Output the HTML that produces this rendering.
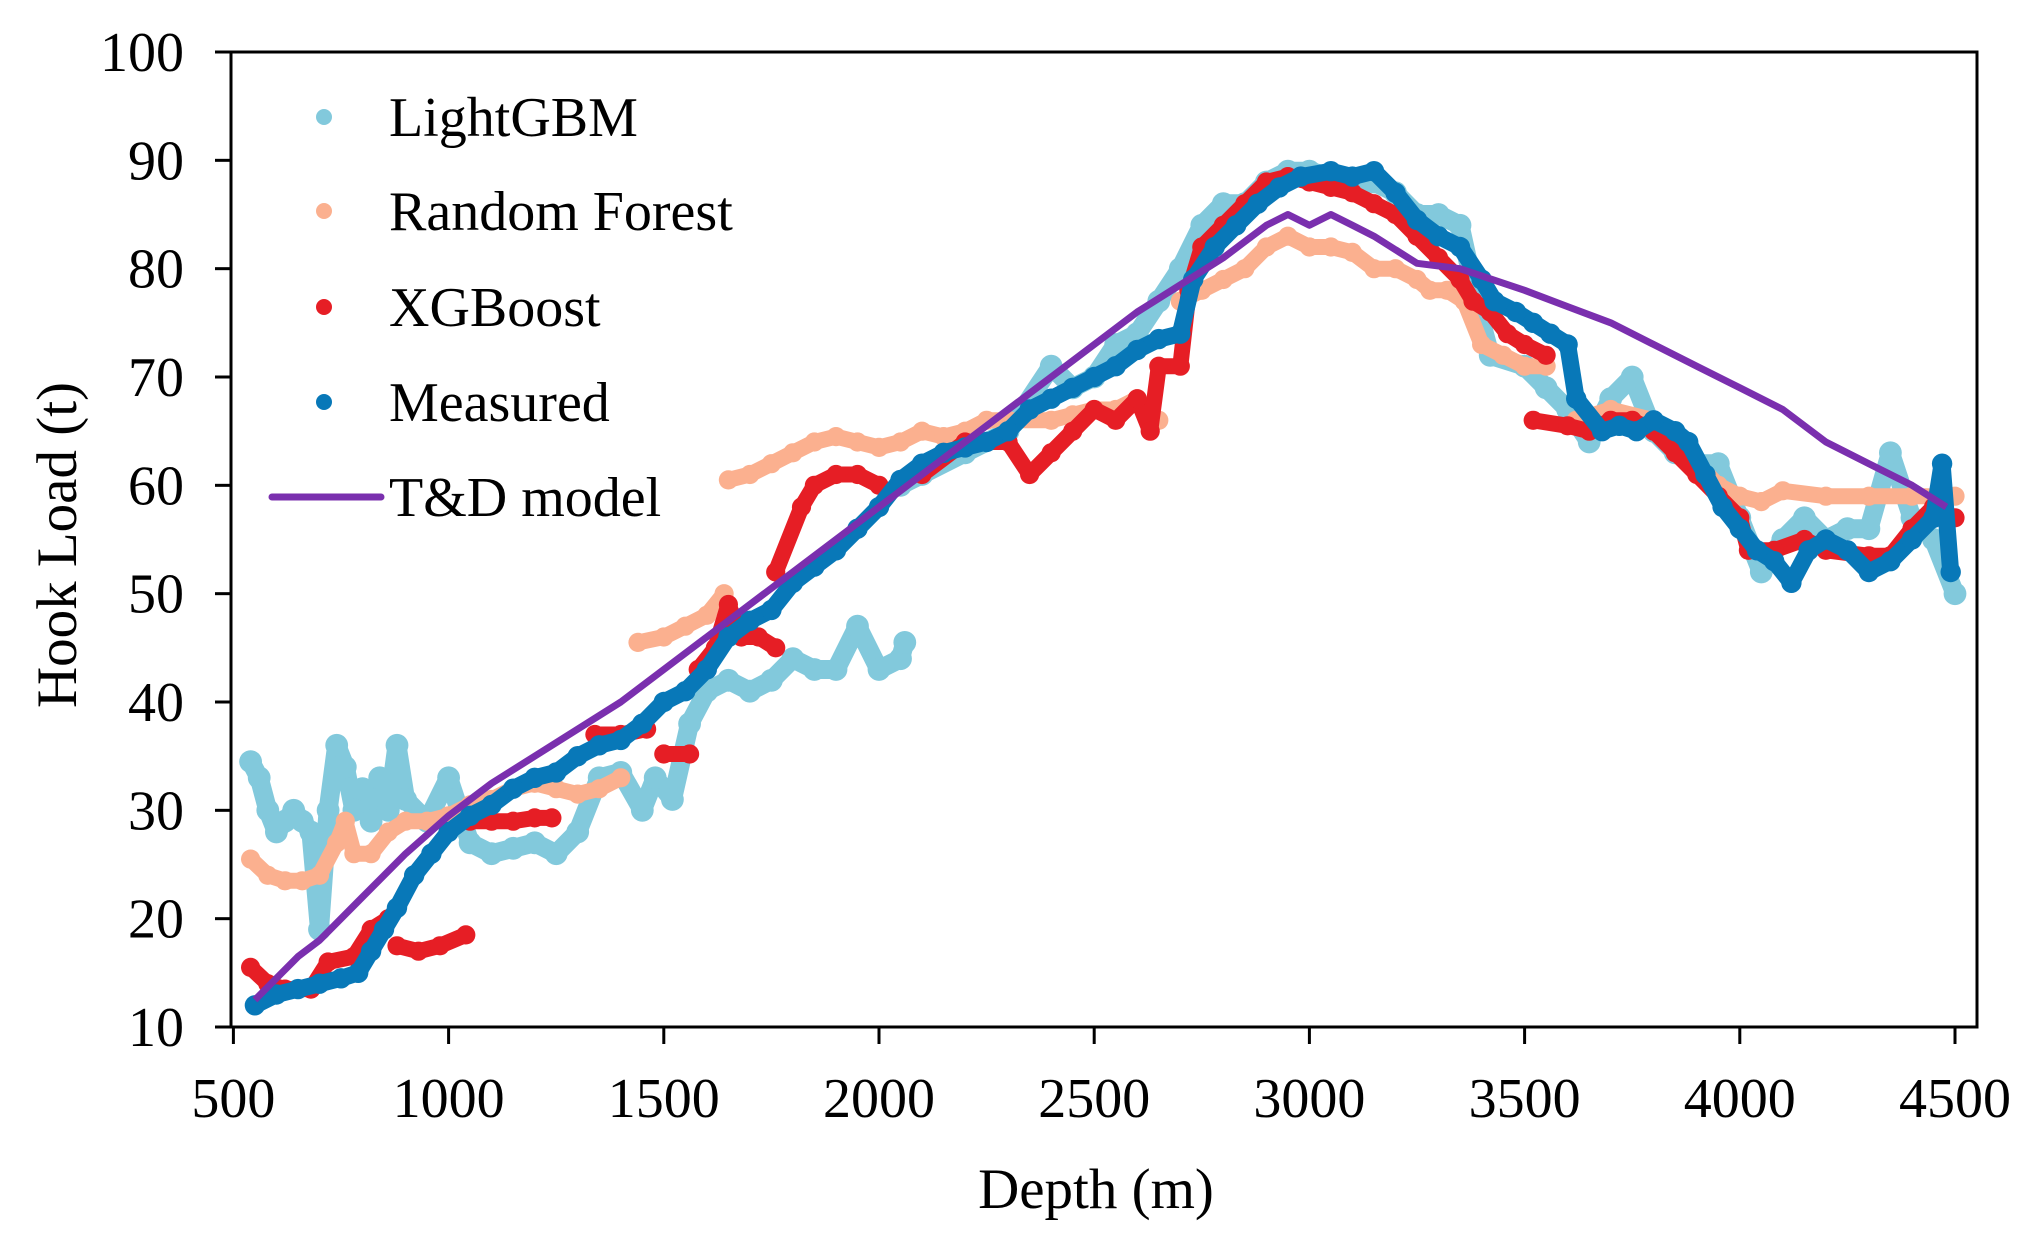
<!DOCTYPE html>
<html><head><meta charset="utf-8"><style>
html,body{margin:0;padding:0;background:#fff;}
svg{display:block;font-family:"Liberation Serif",serif;}
</style></head><body>
<svg id="chart" width="2033" height="1248" viewBox="0 0 2033 1248">
<rect width="2033" height="1248" fill="#fff"/>
<g id="series"></g>
<g id="axes"></g>
<g id="legend"></g>
</svg>
<script>
const xTicks=[500,1000,1500,2000,2500,3000,3500,4000,4500];
const yTicks=[10,20,30,40,50,60,70,80,90,100];
// LightGBM segments
const lgbD1=[540,560,580,600,620,640,660,680,700,720,740,760,780,800,820,840,860,880,900,950,1000,1050,1100,1150,1200,1250,1300,1350,1400,1450,1480,1520,1560,1600,1650,1700,1750,1800,1850,1900,1950,2000,2050,2060];
const lgbL1=[34.5,33,30,28,29,30,29,28,19,30,36,34,30,32,29,33,30,36,31,29,33,27,26,26.5,27,26,28,33,33.5,30,33,31,38,41,42,41,42,44,43,43,47,43,44,45.5];
const lgbD2=[2050,2100,2200,2300,2400,2450,2500,2550,2600,2650,2700,2750,2800,2850,2900,2950,3000,3050,3100,3150,3200,3250,3300,3350,3400,3420,3500,3550,3600,3650,3700,3750,3800,3850,3900,3950,4000,4050,4100,4150,4200,4250,4300,4350,4400,4450,4500];
const lgbL2=[60,61,63,65,71,69,70,73,74,77,80,84,86,86,88,89,89,88.5,87.5,88,87,85,85,84,75,72,71,69,67,64,68,70,65,63,62,62,57,52,55,57,55,56,56,63,57,55,50];
// Random Forest segments
const rfD1=[540,580,620,660,700,740,760,780,820,860,900,950,1000,1050,1100,1150,1200,1250,1300,1350,1400];
const rfL1=[25.5,24,23.5,23.5,24,27,29,26,26,28,29,29,29.5,30.5,31,32,32.5,32,31.5,32,33];
const rfD2=[1440,1500,1550,1600,1640];
const rfL2=[45.5,46,47,48,50];
const rfD3=[1650,1700,1750,1800,1850,1900,1950,2000,2050,2100,2150,2200,2250,2300,2400,2450,2500,2550,2600,2650];
const rfL3=[60.5,61,62,63,64,64.5,64,63.5,64,65,64.5,65,66,66,66,66.5,67,67,68,66];
const rfD4=[2700,2750,2800,2850,2900,2950,3000,3050,3100,3150,3200,3250,3280,3320,3360,3400,3450,3500,3550];
const rfL4=[77,78,79,80,82,83,82,82,81.5,80,80,79,78,78,77,73,72,71,71];
const rfD5=[3620,3700,3800,3850,3900,3950,4000,4050,4100,4200,4300,4400,4500];
const rfL5=[66,67,66,64,62,60,59,58.5,59.5,59,59,59,59];
// XGBoost segments
const xgbD1=[540,580,620,680,720,780,820,860];
const xgbL1=[15.5,14,13.5,13.5,16,16.5,19,20];
const xgbD2=[880,930,980,1040];
const xgbL2=[17.5,17,17.5,18.5];
const xgbD3=[1050,1100,1150,1200,1240];
const xgbL3=[29,29,29,29.3,29.3];
const xgbD4=[1340,1400,1460];
const xgbL4=[37,37,37.5];
const xgbD5=[1500,1560];
const xgbL5=[35.2,35.2];
const xgbD6=[1580,1620,1650,1680,1720,1760];
const xgbL6=[43,45,49,46,46,45];
const xgbD7=[1760,1820,1850,1900,1950,2000];
const xgbL7=[52,58,60,61,61,60];
const xgbD8=[2100,2200,2300,2350,2400,2450,2500,2550,2600,2630,2650,2700,2720,2750,2800,2850,2900,2950,3000,3050,3100,3150,3200,3250,3300,3350,3380,3420,3460,3500,3550];
const xgbL8=[61,64,64,61,63,65,67,66,68,65,71,71,78,82,84,86,88,88.5,88,87.5,87,86,85,83,81,79,77,76,74,73,72];
const xgbD9=[3520,3600,3650,3700,3750,3800,3850,3900,3950,4000,4020,4080,4150,4200,4300,4350,4400,4450,4500];
const xgbL9=[66,65.5,65,66,66,65,63,61,59,57,54,54,55,54,53.5,53.5,56,58,57];
// Measured
const measD=[550,600,650,700,750,790,820,850,880,920,960,1000,1050,1100,1150,1200,1250,1300,1350,1400,1450,1500,1550,1600,1650,1700,1750,1800,1850,1900,1950,2000,2050,2100,2150,2200,2250,2300,2350,2400,2450,2500,2550,2600,2650,2700,2730,2780,2830,2880,2930,2980,3050,3100,3150,3200,3250,3300,3350,3400,3430,3480,3520,3560,3600,3620,3680,3720,3760,3800,3850,3880,3920,3960,4000,4040,4080,4120,4160,4200,4250,4300,4350,4400,4450,4470,4490];
const measL=[12,13,13.5,14,14.5,15,17,19,21,24,26,28,29.5,30.5,32,33,33.5,35,36,36.5,38,40,41,43,46,47.5,48.5,51,52.5,54,56,58,60.5,62,63,63.5,64,65,67,68,69,70,71,72.5,73.5,74,79,82,84,86,87.5,88.5,89,88.5,89,87,84.5,83,82,79,77,76,75,74,73,68,65,65.5,65,66,65,64,61,58,56,54,53,51,54,55,54,52,53,55,57,62,52];
// T&D model
const tdD=[550,600,650,700,800,900,1000,1100,1200,1400,1600,1800,2000,2200,2400,2600,2700,2800,2900,2950,3000,3050,3100,3150,3250,3350,3500,3600,3700,3800,3900,4000,4100,4200,4300,4400,4480];
const tdL=[12.5,14.5,16.5,18,22,26,29.5,32.5,35,40,46,52,58,64,70,76,78.5,81,84,85,84,85,84,83,80.5,80,78,76.5,75,73,71,69,67,64,62,60,58];

const NS='http://www.w3.org/2000/svg';
const X0=233.4,PXM=1721.6/4000,YB=1027,PXU=975/90;
function xs(d){return X0+(d-500)*PXM;}
function ys(v){return YB-(v-10)*PXU;}
function mk(tag,attrs,parent){const e=document.createElementNS(NS,tag);for(const k in attrs)e.setAttribute(k,attrs[k]);parent.appendChild(e);return e;}
const S=document.getElementById('series'),A=document.getElementById('axes'),L=document.getElementById('legend');

function band(D,V,color,w,name){
  const g=mk('g',{},S);
  
  
  const pts=D.map((d,i)=>xs(d).toFixed(1)+','+ys(V[i]).toFixed(1)).join(' ');
  const pl=mk('polyline',{points:pts,fill:'none',stroke:color,'stroke-width':w,'stroke-linejoin':'round','stroke-linecap':'round'},g);
  
  
  D.forEach((d,i)=>{
    const c=mk('circle',{cx:xs(d).toFixed(1),cy:ys(V[i]).toFixed(1),r:w*0.6,fill:color},g);
    
    
  });
}
const cLG='#82c9dc',cRF='#fbb08f',cXG='#e61e25',cMS='#0878b8',cTD='#7a2fae';
band(lgbD1,lgbL1,cLG,19,'lightgbm-series');
band(lgbD2,lgbL2,cLG,19,'lightgbm-series');
band(rfD1,rfL1,cRF,16,'random-forest-series');
band(rfD2,rfL2,cRF,16,'random-forest-series');
band(rfD3,rfL3,cRF,16,'random-forest-series');
band(rfD4,rfL4,cRF,16,'random-forest-series');
band(rfD5,rfL5,cRF,16,'random-forest-series');
[[xgbD1,xgbL1],[xgbD2,xgbL2],[xgbD3,xgbL3],[xgbD4,xgbL4],[xgbD5,xgbL5],[xgbD6,xgbL6],[xgbD7,xgbL7],[xgbD8,xgbL8],[xgbD9,xgbL9]].forEach(p=>band(p[0],p[1],cXG,16,'xgboost-series'));
band(measD,measL,cMS,17,'measured-series');
const tdLine=mk('polyline',{points:tdD.map((d,i)=>xs(d).toFixed(1)+','+ys(tdL[i]).toFixed(1)).join(' '),fill:'none',stroke:cTD,'stroke-width':7,'stroke-linejoin':'round'},S);



// axes frame
const frame=mk('rect',{x:231,y:52,width:1746,height:975,fill:'none',stroke:'#000','stroke-width':3},A);


yTicks.forEach(v=>{
  const y=ys(v);
  const t=mk('line',{x1:215,x2:231,y1:y,y2:y,stroke:'#000','stroke-width':3},A);
  
  
  const tx=mk('text',{x:184,y:y+19,'text-anchor':'end','font-size':56,fill:'#000'},A);
  tx.textContent=v;
  
  
});
xTicks.forEach(d=>{
  const x=xs(d);
  const t=mk('line',{x1:x,x2:x,y1:1027,y2:1044,stroke:'#000','stroke-width':3},A);
  
  
  const tx=mk('text',{x:x,y:1117,'text-anchor':'middle','font-size':56,fill:'#000'},A);
  tx.textContent=d;
  
  
});
const xt=mk('text',{x:1096,y:1208,'text-anchor':'middle','font-size':57,fill:'#000'},A);
xt.textContent='Depth (m)';


const yt=mk('text',{x:0,y:0,'text-anchor':'middle','font-size':57,fill:'#000',transform:'translate(76,545) rotate(-90)'},A);
yt.textContent='Hook Load (t)';



// legend
const legItems=[['LightGBM',cLG,'dot'],['Random Forest',cRF,'dot'],['XGBoost',cXG,'dot'],['Measured',cMS,'dot'],['T&D model',cTD,'line']];
const legY=[117,211,307,402,497];
legItems.forEach((it,i)=>{
  const g=mk('g',{},L);
  
  
  const y=legY[i];
  if(it[2]==='dot'){mk('circle',{cx:324,cy:y,r:8,fill:it[1]},g);}
  else{mk('line',{x1:272,x2:381,y1:y,y2:y,stroke:it[1],'stroke-width':7,'stroke-linecap':'round'},g);}
  const t=mk('text',{x:389,y:y+19,'font-size':56,fill:'#000'},g);
  t.textContent=it[0];
});
</script>
</body></html>
